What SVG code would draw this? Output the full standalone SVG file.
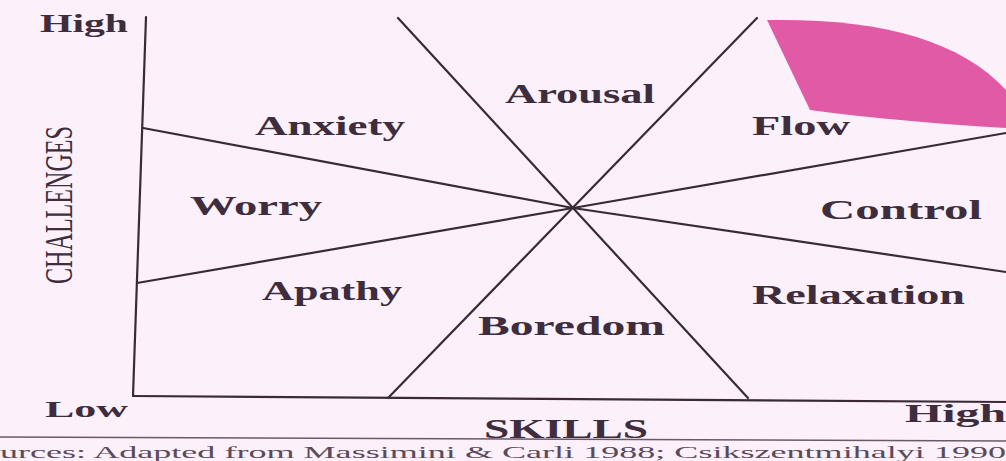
<svg xmlns="http://www.w3.org/2000/svg" width="1006" height="461" viewBox="0 0 1006 461">
<style>
.lbl{font-family:"Liberation Serif","Times New Roman",serif;font-weight:bold;fill:#3d2d3d}
.ln{stroke:#3a2a38;stroke-width:2.2;fill:none;stroke-linecap:round}
</style>
<rect width="1006" height="461" fill="#fcf0fb"/>
<g id="flow-zone">
<path d="M767,20 C880,18 960,40 1006,90 L1006,128 C940,124 870,118 810,110 Z" fill="#e05aa6"/>
</g>
<g id="connectors">
<line class="ln" x1="146" y1="17" x2="133" y2="396"/>
<line class="ln" x1="133" y1="396" x2="1006" y2="402"/>
<line class="ln" x1="143" y1="128" x2="573" y2="208"/>
<line class="ln" x1="137" y1="283" x2="573" y2="208"/>
<line class="ln" x1="573" y1="208" x2="1006" y2="133"/>
<line class="ln" x1="573" y1="208" x2="1006" y2="272"/>
<line class="ln" x1="398" y1="18" x2="748" y2="398"/>
<line class="ln" x1="757" y1="18" x2="388" y2="398"/>
<line x1="0" y1="437" x2="1006" y2="441" stroke="#6a5a68" stroke-width="1.5"/>
</g>
<g id="axis-labels">
<text class="lbl" x="40" y="32" font-size="26" textLength="88" lengthAdjust="spacingAndGlyphs">High</text>
<text class="lbl" x="45" y="417" font-size="24" textLength="83" lengthAdjust="spacingAndGlyphs">Low</text>
<text class="lbl" x="905" y="422" font-size="26" textLength="101" lengthAdjust="spacingAndGlyphs">High</text>
<text class="lbl" x="484" y="438" font-size="28" textLength="164" lengthAdjust="spacingAndGlyphs">SKILLS</text>
<text class="lbl" transform="translate(72,284) rotate(-90)" font-size="40" style="font-weight:normal" textLength="158" lengthAdjust="spacingAndGlyphs">CHALLENGES</text>
</g>
<g id="anxiety"><text class="lbl" x="255" y="135" font-size="27" textLength="150" lengthAdjust="spacingAndGlyphs">Anxiety</text></g>
<g id="arousal"><text class="lbl" x="505" y="103" font-size="27" textLength="150" lengthAdjust="spacingAndGlyphs">Arousal</text></g>
<g id="flow"><text class="lbl" x="752" y="135" font-size="27" textLength="98" lengthAdjust="spacingAndGlyphs">Flow</text></g>
<g id="worry"><text class="lbl" x="190" y="215" font-size="27" textLength="132" lengthAdjust="spacingAndGlyphs">Worry</text></g>
<g id="control"><text class="lbl" x="820" y="219" font-size="27" textLength="162" lengthAdjust="spacingAndGlyphs">Control</text></g>
<g id="apathy"><text class="lbl" x="262" y="300" font-size="27" textLength="140" lengthAdjust="spacingAndGlyphs">Apathy</text></g>
<g id="relaxation"><text class="lbl" x="752" y="304" font-size="27" textLength="213" lengthAdjust="spacingAndGlyphs">Relaxation</text></g>
<g id="boredom"><text class="lbl" x="478" y="335" font-size="27" textLength="187" lengthAdjust="spacingAndGlyphs">Boredom</text></g>
<g id="caption"><text x="0" y="458" font-family="Liberation Serif,serif" font-size="17" fill="#5a4a5a" textLength="1006" lengthAdjust="spacingAndGlyphs">urces: Adapted from Massimini &amp; Carli 1988; Csikszentmihalyi 1990</text></g>
</svg>
